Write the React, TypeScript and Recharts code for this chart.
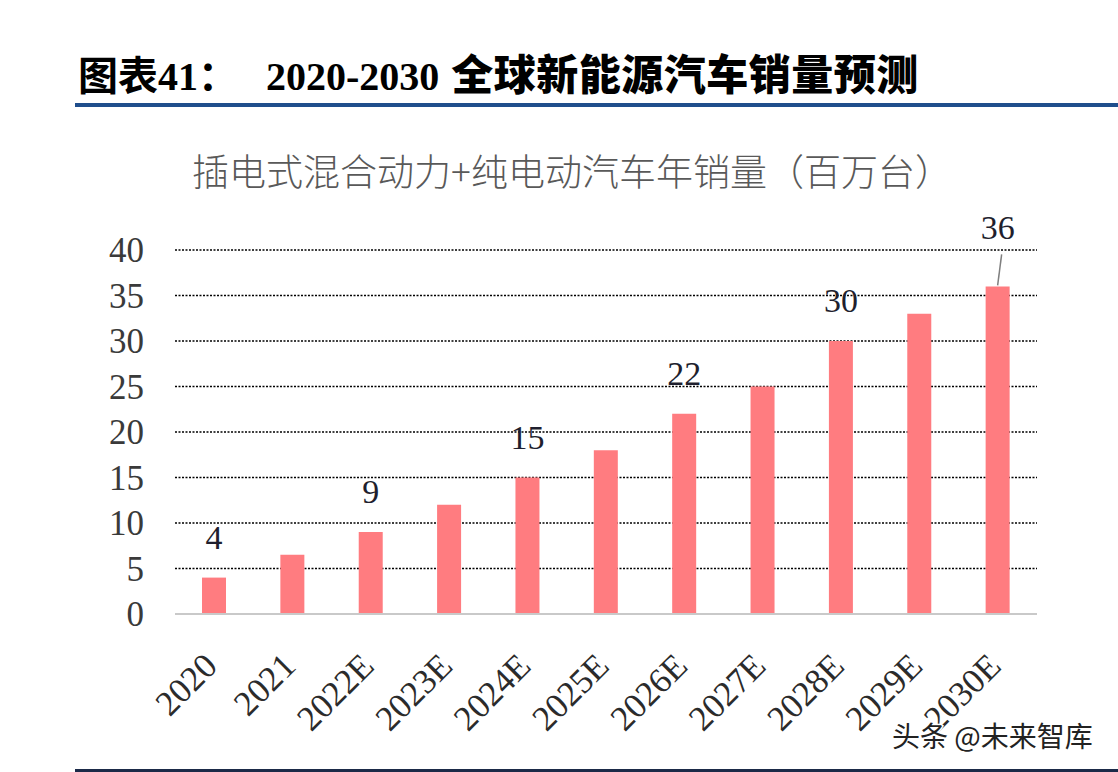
import React from "react";
import { BarChart, Bar, XAxis, YAxis, CartesianGrid, LabelList } from "recharts";

const years = ["2020", "2021", "2022E", "2023E", "2024E", "2025E", "2026E", "2027E", "2028E", "2029E", "2030E"];
const sales = [4, 6.5, 9, 12, 15, 18, 22, 25, 30, 33, 36];
const shownLabels = [4, null, 9, null, 15, null, 22, null, 30, null, 36];
const yTicks = [0, 5, 10, 15, 20, 25, 30, 35, 40];
const leaderYears = ["2030E"];

const heading = "图表41：";
const headingYears = "2020-2030";
const headingTopic = "全球新能源汽车销量预测";
const chartTitle = "插电式混合动力+纯电动汽车年销量（百万台）";
const watermark = "头条 @未来智库";

const data = years.map((year, i) => ({ year, sales: sales[i], label: shownLabels[i] }));

const serif = "'Liberation Serif', 'Times New Roman', serif";
const cjk = "'Noto Sans CJK SC', sans-serif";

const XTick = (props: any) => {
  const { x, y, payload } = props;
  return (
    <g transform={`translate(${x + 5},${y + 54})`}>
      <text textAnchor="end" transform="rotate(-45)" fontSize={35} fontFamily={serif} fill="#2b2b2b">
        {payload.value}
      </text>
    </g>
  );
};

const BarLabel = (props: any) => {
  const { x, y, width, value, index } = props;
  if (value === null || value === undefined) return null;
  const cx = x + width / 2;
  const leader = leaderYears.includes(years[index]);
  if (leader) {
    return (
      <g>
        <line x1={cx} y1={y - 1} x2={cx + 4} y2={y - 32} stroke="#7f7f7f" strokeWidth={1.5} />
        <text x={cx} y={y - 47} textAnchor="middle" fontSize={34} fontFamily={serif} fill="#1f1f2e">
          {value}
        </text>
      </g>
    );
  }
  return (
    <text x={cx} y={y - 29} textAnchor="middle" fontSize={34} fontFamily={serif} fill="#1f1f2e">
      {value}
    </text>
  );
};

export default function App() {
  return (
    <div style={{ position: "absolute", left: 0, top: 0, width: 1118, height: 772, background: "#fff", overflow: "hidden" }}>
      <div style={{ position: "absolute", left: 0, top: 0 }}>
        <BarChart width={1118} height={772} data={data} margin={{ top: 250, right: 81, bottom: 0, left: 115 }}>
          <CartesianGrid vertical={false} stroke="#000" strokeWidth={1.4} strokeDasharray="2 1.5" />
          <XAxis
            dataKey="year"
            height={158}
            tickLine={false}
            tickSize={0}
            tickMargin={0}
            axisLine={{ stroke: "#c9c9c9", strokeWidth: 2 }}
            tick={<XTick />}
            interval={0}
          />
          <YAxis
            width={60}
            domain={[0, 40]}
            ticks={yTicks}
            tickLine={false}
            tickSize={0}
            axisLine={false}
            tickMargin={31}
            tick={{ fill: "#3a3a3a", fontSize: 35, fontFamily: serif }}
          />
          <Bar dataKey="sales" fill="#FF7C80" barSize={24} isAnimationActive={false}>
            <LabelList dataKey="label" content={<BarLabel />} />
          </Bar>
        </BarChart>
      </div>
      <svg width={1118} height={772} style={{ position: "absolute", left: 0, top: 0, pointerEvents: "none" }}>
        <text x={78} y={90} fontWeight={700} fill="#000">
          <tspan fontSize={40} fontFamily={`${serif.split(",")[0]}, ${cjk}`}>{heading}</tspan>
          <tspan dx={28} fontSize={40} fontFamily={serif}>{headingYears}</tspan>
          <tspan dx={12} fontSize={42} fontFamily={cjk} fontWeight={900} letterSpacing={0.5}>{headingTopic}</tspan>
        </text>
        <rect x={75} y={103} width={1043} height={4} fill="#1F4E8C" />
        <text x={572} y={170} textAnchor="middle" dominantBaseline="central" fontSize={37} fontFamily={cjk} fontWeight={300} fill="#595959">
          {chartTitle}
        </text>
        <text x={892} y={747} fontSize={28} fontFamily={cjk} fill="#222" stroke="#fff" strokeWidth={3} paintOrder="stroke">
          {watermark}
        </text>
        <rect x={75} y={769} width={1043} height={3} fill="#1B2A48" />
      </svg>
    </div>
  );
}
